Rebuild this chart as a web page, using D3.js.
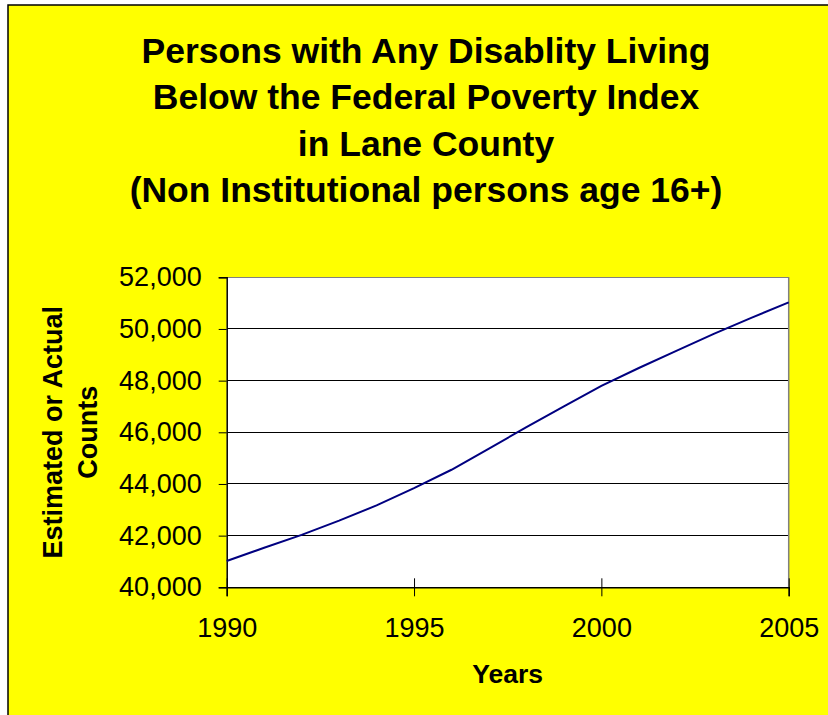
<!DOCTYPE html>
<html>
<head>
<meta charset="utf-8">
<script src="https://cdn.jsdelivr.net/npm/d3@7"></script>
<style>
  body { margin: 0; background: #fff; }
  text { font-family: "Liberation Sans", Arial, sans-serif; fill: #000; }
</style>
</head>
<body>
<div id="chart"></div>
<script>
// datos
const years = [1990, 1991, 1992, 1993, 1994, 1995, 1996, 1997, 1998, 1999, 2000, 2001, 2002, 2003, 2004, 2005]
const counts = [41020, 41530, 42030, 42580, 43170, 43840, 44550, 45370, 46200, 47000, 47800, 48490, 49150, 49810, 50430, 51030]
const xTicks = [1990, 1995, 2000, 2005]
const yTicks = [40000, 42000, 44000, 46000, 48000, 50000, 52000]
const titleLines = ['Persons with Any Disablity Living', 'Below the Federal Poverty Index', 'in Lane County', '(Non Institutional persons age 16+)']

const width = 828
const height = 715
const margin = {
    top: 277.3,
    right: 828 - 788.7,
    bottom: 715 - 587.3,
    left: 226.7
}
const innerW = width - margin.left - margin.right
const innerH = height - margin.top - margin.bottom

const data = years.map((y, i) => ({year: y, count: counts[i]}))

const svg = d3.select('#chart').append('svg').attr('width', width).attr('height', height)

// fondo amarillo con borde
svg.append('rect').attr('x', 8).attr('y', 5).attr('width', width + 10).attr('height', height + 10)
    .attr('fill', '#ffff00').attr('stroke', '#000').attr('stroke-width', 1.5)

// titulo
svg.append('g').attr('class', 'title').selectAll('text').data(titleLines).enter()
    .append('text')
    .attr('x', 426)
    .attr('y', (d, i) => 63.3 + i * 46.1)
    .attr('text-anchor', 'middle')
    .attr('font-size', 35.5)
    .attr('font-weight', 'bold')
    .text(d => d)

const x = d3.scaleLinear().domain([1990, 2005]).range([0, innerW])
const y = d3.scaleLinear().domain([40000, 52000]).range([innerH, 0])

const plot = svg.append('g').attr('transform', `translate(${margin.left}, ${margin.top})`)
plot.append('rect').attr('width', innerW).attr('height', innerH).attr('fill', '#fff')

// lineas de rejilla
plot.append('g').selectAll('line').data(yTicks.slice(1)).enter()
    .append('line')
    .attr('x1', 0).attr('x2', innerW)
    .attr('y1', d => y(d)).attr('y2', d => y(d))
    .attr('stroke', d => d === 52000 ? '#808080' : '#000')
    .attr('stroke-width', 1)
    .attr('shape-rendering', 'crispEdges')

// borde derecho gris
plot.append('line').attr('x1', innerW).attr('x2', innerW).attr('y1', 0).attr('y2', innerH)
    .attr('stroke', '#808080').attr('stroke-width', 1.5)

const xAxis = d3.axisBottom(x).tickValues(xTicks).tickFormat(d3.format('d')).tickSizeOuter(0).tickSize(9)
const yAxis = d3.axisLeft(y).tickValues(yTicks).tickFormat(d3.format(',')).tickSizeOuter(0).tickSize(8).tickPadding(17)

const xAxisGroup = plot.append('g').attr('class', 'xAxisGroup').attr('transform', `translate(0, ${innerH})`).call(xAxis)
xAxisGroup.selectAll('.tick line').attr('y1', -9).attr('y2', 9).attr('stroke', '#000')
xAxisGroup.selectAll('.tick text').attr('y', 49.7).attr('dy', 0).attr('font-size', 27).attr('font-family', '"Liberation Sans", Arial, sans-serif')
xAxisGroup.select('.domain').attr('stroke', '#000').attr('stroke-width', 1.5)

const yAxisGroup = plot.append('g').attr('class', 'yAxisGroup').call(yAxis)
yAxisGroup.selectAll('.tick line').attr('stroke', '#000')
yAxisGroup.selectAll('.tick text').attr('font-size', 27).attr('font-family', '"Liberation Sans", Arial, sans-serif')
yAxisGroup.select('.domain').attr('stroke', '#000').attr('stroke-width', 1.5)

// serie
plot.append('path').datum(data)
    .attr('fill', 'none')
    .attr('stroke', '#000080')
    .attr('stroke-width', 2)
    .attr('d', d3.line().x(d => x(d.year)).y(d => y(d.count)))

// titulos de ejes
svg.append('text')
    .attr('x', margin.left + innerW / 2)
    .attr('y', 683.3)
    .attr('text-anchor', 'middle')
    .attr('font-size', 26.5)
    .attr('font-weight', 'bold')
    .text('Years')

const yTitle = svg.append('text')
    .attr('transform', `translate(61.7, ${margin.top + innerH / 2}) rotate(-90)`)
    .attr('text-anchor', 'middle')
    .attr('font-size', 27)
    .attr('font-weight', 'bold')
yTitle.append('tspan').attr('x', 0).attr('y', 0).text('Estimated or Actual')
yTitle.append('tspan').attr('x', 0).attr('y', 35).text('Counts')
</script>
</body>
</html>
